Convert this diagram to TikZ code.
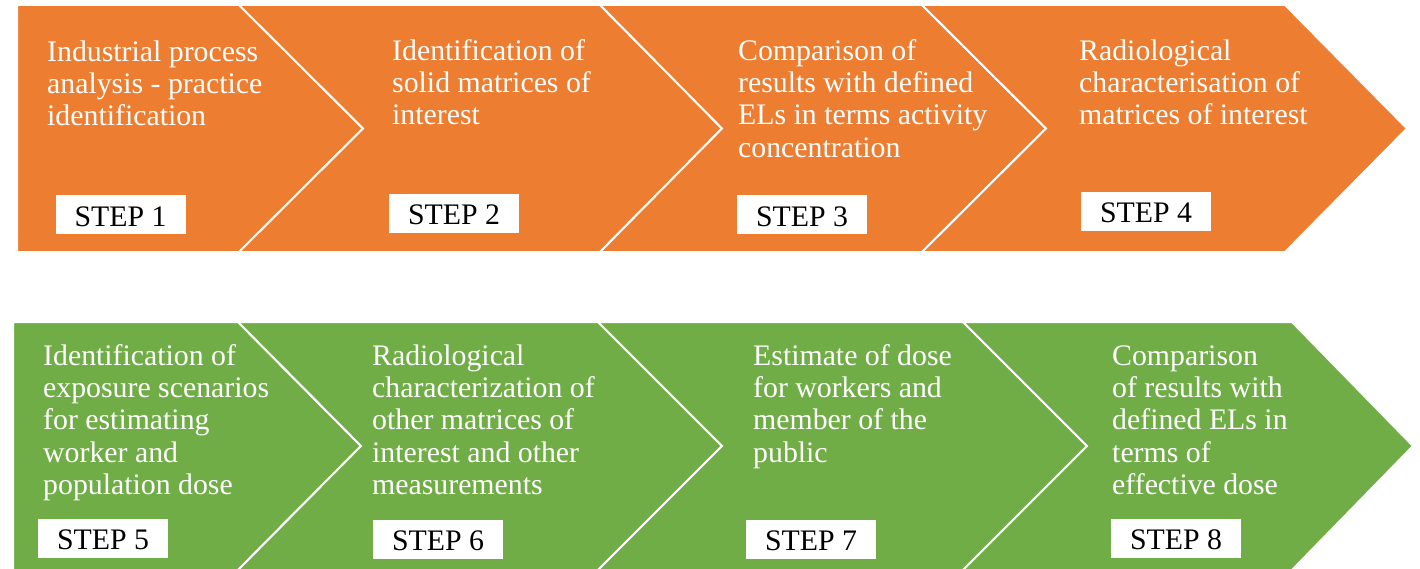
\documentclass[tikz,border=0pt]{standalone}
\usepackage{fontspec}
\setmainfont{Liberation Serif}
\definecolor{chevorange}{HTML}{ED7D31}
\definecolor{chevgreen}{HTML}{70AD47}
\tikzset{
  orangechev/.style={fill=chevorange, draw=white, line width=2pt, line join=miter},
  greenchev/.style={fill=chevgreen, draw=white, line width=2pt, line join=miter},
  steptext/.style={anchor=north west, inner sep=0pt, align=left, text=white,
    font=\fontsize{29.8}{32.3}\selectfont},
  stepbox/.style={fill=white, inner sep=0pt, minimum width=130pt, minimum height=39pt,
    text height=22pt, text depth=0pt, text=black, font=\fontsize{29.8}{32.3}\selectfont}
}
\newcommand{\firstline}{\rule{0pt}{24pt}}
\begin{document}
\begin{tikzpicture}[x=1pt, y=-1pt]
\useasboundingbox (0,0) rectangle (1420,569);
% top row chevrons
\path[orangechev] (17,5) -- (239,5) -- (363,128.5) -- (239,252) -- (17,252) -- cycle;
\path[orangechev] (239,5) -- (600,5) -- (722,128.5) -- (600,252) -- (239,252) -- (363,128.5) -- cycle;
\path[orangechev] (600,5) -- (922,5) -- (1046,128.5) -- (922,252) -- (600,252) -- (722,128.5) -- cycle;
\path[orangechev] (922,5) -- (1285,5) -- (1407,128.5) -- (1285,252) -- (922,252) -- (1046,128.5) -- cycle;
% bottom row chevrons
\path[greenchev] (13,322) -- (238,322) -- (361,446) -- (238,570) -- (13,570) -- cycle;
\path[greenchev] (238,322) -- (598,322) -- (722,446) -- (598,570) -- (238,570) -- (361,446) -- cycle;
\path[greenchev] (598,322) -- (963,322) -- (1087,446) -- (963,570) -- (598,570) -- (722,446) -- cycle;
\path[greenchev] (963,322) -- (1292,322) -- (1413,446) -- (1292,570) -- (963,570) -- (1087,446) -- cycle;
% texts
\node[steptext] (t1) at (47,37) {\firstline Industrial process\\analysis - practice\\identification};
\node[steptext] (t2) at (392,36) {\firstline Identification of\\solid matrices of\\interest};
\node[steptext] (t3) at (738,36) {\firstline Comparison of\\results with defined\\ELs in terms activity\\concentration};
\node[steptext] (t4) at (1079,36) {\firstline Radiological\\characterisation of\\matrices of interest};
\node[steptext] (t5) at (43,341) {\firstline Identification of\\exposure scenarios\\for estimating\\worker and\\population dose};
\node[steptext] (t6) at (372,341) {\firstline Radiological\\characterization of\\other matrices of\\interest and other\\measurements};
\node[steptext] (t7) at (753,341) {\firstline Estimate of dose\\for workers and\\member of the\\public};
\node[steptext] (t8) at (1112,341) {\firstline Comparison\\of results with\\defined ELs in\\terms of\\effective dose};
% step labels
\node[stepbox] (s1) at (120.5,215) {STEP 1};
\node[stepbox] (s2) at (454,213.5) {STEP 2};
\node[stepbox] (s3) at (802,215) {STEP 3};
\node[stepbox] (s4) at (1146,211.5) {STEP 4};
\node[stepbox] (s5) at (103,538.5) {STEP 5};
\node[stepbox] (s6) at (438,539) {STEP 6};
\node[stepbox] (s7) at (811,539.5) {STEP 7};
\node[stepbox] (s8) at (1176,538.5) {STEP 8};
\end{tikzpicture}
\end{document}
